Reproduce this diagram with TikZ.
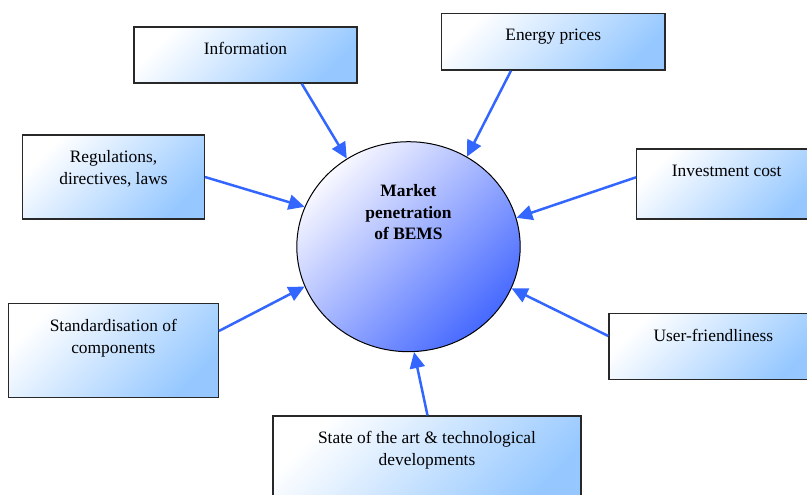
\documentclass[tikz,border=0pt]{standalone}
\usepackage{fontspec}
\setmainfont{Liberation Serif}
\usetikzlibrary{shapes.geometric,arrows.meta}
\definecolor{arrowblue}{RGB}{51,102,255}
\definecolor{boxblue}{RGB}{150,200,255}
\definecolor{circblue}{RGB}{70,105,255}
\definecolor{circlight}{RGB}{248,248,255}
\definecolor{boxedge}{RGB}{40,40,40}
\tikzset{
  factorbox/.style={rectangle, draw=boxedge, line width=1.3pt, inner sep=0pt,
    top color=white, bottom color=boxblue, shading angle=45},
  factortext/.style={anchor=north, inner sep=0pt, align=center,
    font=\fontsize{17.4}{22}\selectfont},
  centrecirc/.style={ellipse, draw=black, line width=1pt, inner sep=0pt,
    minimum width=223.4pt, minimum height=210pt,
    top color=circlight, bottom color=circblue, shading angle=45},
  centretext/.style={anchor=north, inner sep=0pt, align=center,
    font=\fontsize{17.4}{21.5}\selectfont\bfseries},
  influence/.style={draw=arrowblue, line width=2.5pt,
    -{Triangle[length=16pt,width=15pt]}}
}
\begin{document}
\begin{tikzpicture}[x=1pt,y=-1pt]
\useasboundingbox (0,0) rectangle (807,495);
% centre
\node[centrecirc] (circ) at (408.5,246.7) {};
\node[centretext] (circtext) at (408.5,184.5) {Market\\penetration\\of BEMS};
% boxes
\node[factorbox, minimum width=223pt, minimum height=56pt] (info) at (245.5,55) {};
\node[factortext] (infotext) at (245.5,42.3) {Information};
\node[factorbox, minimum width=223.3pt, minimum height=56.7pt] (energy) at (553.3,41.7) {};
\node[factortext] (energytext) at (553.3,28.6) {Energy prices};
\node[factorbox, minimum width=181.6pt, minimum height=84pt] (reg) at (113.5,177) {};
\node[factortext] (regtext) at (113.5,150.3) {Regulations,\\directives, laws};
\node[factorbox, minimum width=180pt, minimum height=70pt] (invest) at (726.7,184) {};
\node[factortext] (investtext) at (726.7,164.8) {Investment cost};
\node[factorbox, minimum width=210pt, minimum height=94pt] (std) at (113.3,350.3) {};
\node[factortext] (stdtext) at (113.3,318.6) {Standardisation of\\components};
\node[factorbox, minimum width=208.7pt, minimum height=66pt] (user) at (713.3,346.3) {};
\node[factortext] (usertext) at (713.3,328.6) {User-friendliness};
\node[factorbox, minimum width=308pt, minimum height=89pt] (state) at (427,460.5) {};
\node[factortext] (statetext) at (427,430.8) {State of the art \& technological\\developments};
% arrows
\draw[influence] ([xshift=56.2pt]info.south) -- (circ.125);
\draw[influence] ([xshift=-42.3pt]energy.south) -- (circ.57);
\draw[influence] (reg.east) -- (circ.159);
\draw[influence] ([yshift=6.7pt]invest.west) -- (circ.15);
\draw[influence] ([yshift=19.3pt]std.east) -- (circ.201);
\draw[influence] ([yshift=10.3pt]user.west) -- (circ.338);
\draw[influence] ([xshift=0.5pt]state.north) -- (circ.273.7);
\end{tikzpicture}
\end{document}
